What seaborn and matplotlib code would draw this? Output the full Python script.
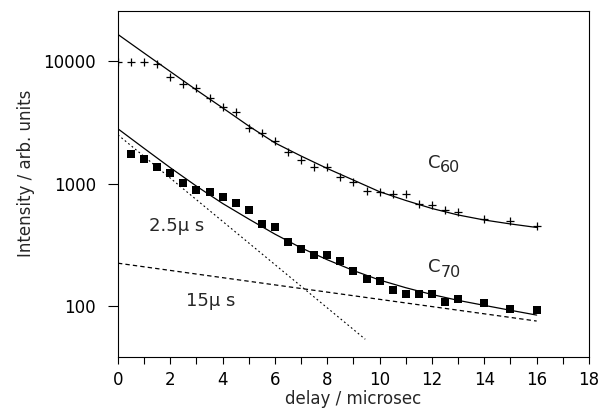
"""
plot.py
-------
Time-resolved emission of C60 / C70 on a log intensity axis,
with fitted decay curves and the two C70 lifetime components.
"""

import matplotlib

matplotlib.use("Agg")  # render to file, no display needed
import matplotlib.pyplot as plt
from matplotlib.ticker import FixedLocator, MultipleLocator, NullLocator
import seaborn as sns

t_c60 = [0, 0.5, 1, 1.5, 2, 2.5, 3, 3.5, 4, 4.5, 5, 5.5, 6, 6.5, 7, 7.5, 8, 8.5,
         9, 9.5, 10, 10.5, 11, 11.5, 12, 12.5, 13, 14, 15, 16]
c60 = [9870, 9760, 9870, 9400, 7450, 6460, 6060, 5020, 4240, 3860, 2860, 2570,
       2220, 1820, 1560, 1360, 1360, 1140, 1026, 877, 861, 820, 820, 684, 670,
       611, 592, 515, 497, 452]

t_c70 = [0.5, 1, 1.5, 2, 2.5, 3, 3.5, 4, 4.5, 5, 5.5, 6, 6.5, 7, 7.5, 8, 8.5,
         9, 9.5, 10, 10.5, 11, 11.5, 12, 12.5, 13, 14, 15, 16]
c70 = [1750, 1600, 1360, 1230, 1020, 889, 861, 774, 692, 611, 470, 441, 335,
       295, 262, 262, 234, 194, 166, 161, 136, 126, 126, 126, 108, 114, 106,
       95, 93]

# fitted curves, sampled every microsecond
t_fit = list(range(17))
c60_fit = [16450, 11600, 8200, 5800, 4150, 2950, 2150, 1680, 1330, 1070, 860,
           730, 628, 556, 506, 470, 440]
c70_fit = [2800, 1940, 1350, 955, 690, 515, 388, 300, 240, 196, 164, 142, 125,
           112, 102, 93, 85]

# single-exponential components of the C70 fit (straight on a log axis)
t_fast = [0, 9.45]
fast = [2500, 54]
t_slow = [0, 16]
slow = [225, 76]

y_ticks = [100, 1000, 10000]
x_ticks = list(range(0, 19, 2))

FONT = "DejaVu Sans"


def main() -> None:
    sns.set_theme(style="ticks")
    plt.rcParams["font.family"] = [FONT]

    fig = plt.figure(figsize=(6.01, 4.16), dpi=100)
    fig.subplots_adjust(left=0.1963, right=0.980, bottom=0.1418, top=0.9736)
    ax = fig.add_subplot(111)
    ax.set_yscale("log")

    sns.lineplot(x=t_fit, y=c60_fit, ax=ax, color="black", lw=0.9)
    sns.lineplot(x=t_fit, y=c70_fit, ax=ax, color="black", lw=0.9)
    sns.lineplot(x=t_fast, y=fast, ax=ax, color="black", lw=0.8,
                 linestyle=(0, (1.6, 2.4)))
    sns.lineplot(x=t_slow, y=slow, ax=ax, color="black", lw=0.9,
                 linestyle=(0, (3.5, 2.5)))

    sns.scatterplot(x=t_c60, y=c60, ax=ax, marker="+", color="black",
                    s=34, linewidth=0.9, zorder=3)
    sns.scatterplot(x=t_c70, y=c70, ax=ax, marker="s", color="black",
                    s=28, linewidth=0, zorder=3)

    ax.set_xlim(0, 18)
    ax.set_ylim(38.7, 25560)
    ax.xaxis.set_major_locator(MultipleLocator(2))
    ax.xaxis.set_minor_locator(MultipleLocator(1))
    ax.yaxis.set_major_locator(FixedLocator(y_ticks))
    ax.yaxis.set_minor_locator(NullLocator())
    ax.set_xticks(x_ticks)
    ax.set_xticklabels([str(v) for v in x_ticks])
    ax.set_yticklabels([str(v) for v in y_ticks])

    ax.tick_params(axis="x", which="both", direction="out", length=5,
                   width=0.8, pad=5, labelsize=12, colors="black")
    ax.tick_params(axis="y", which="major", direction="out", length=7,
                   width=0.8, pad=9, labelsize=12, colors="black")
    for side in ax.spines.values():
        side.set_linewidth(0.8)
        side.set_color("black")

    ax.set_xlabel("delay / microsec", fontsize=12, labelpad=1)
    ax.set_ylabel("Intensity / arb. units", fontsize=12)
    ax.yaxis.set_label_coords(-0.176, 0.532)

    # species labels, subscript drawn as a smaller, lowered text
    ax.text(12.32, 1335, "C", fontsize=13, ha="right", va="baseline")
    ax.text(12.32, 1253, "60", fontsize=11.5, ha="left", va="baseline")
    ax.text(12.32, 192, "C", fontsize=13, ha="right", va="baseline")
    ax.text(12.32, 175, "70", fontsize=11.5, ha="left", va="baseline")

    ax.text(1.2, 411, "2.5μ s", fontsize=13, ha="left", va="baseline")
    ax.text(2.6, 101, "15μ s", fontsize=13, ha="left", va="baseline")

    fig.savefig("out.png", dpi=100)
    plt.close(fig)


if __name__ == "__main__":
    main()
